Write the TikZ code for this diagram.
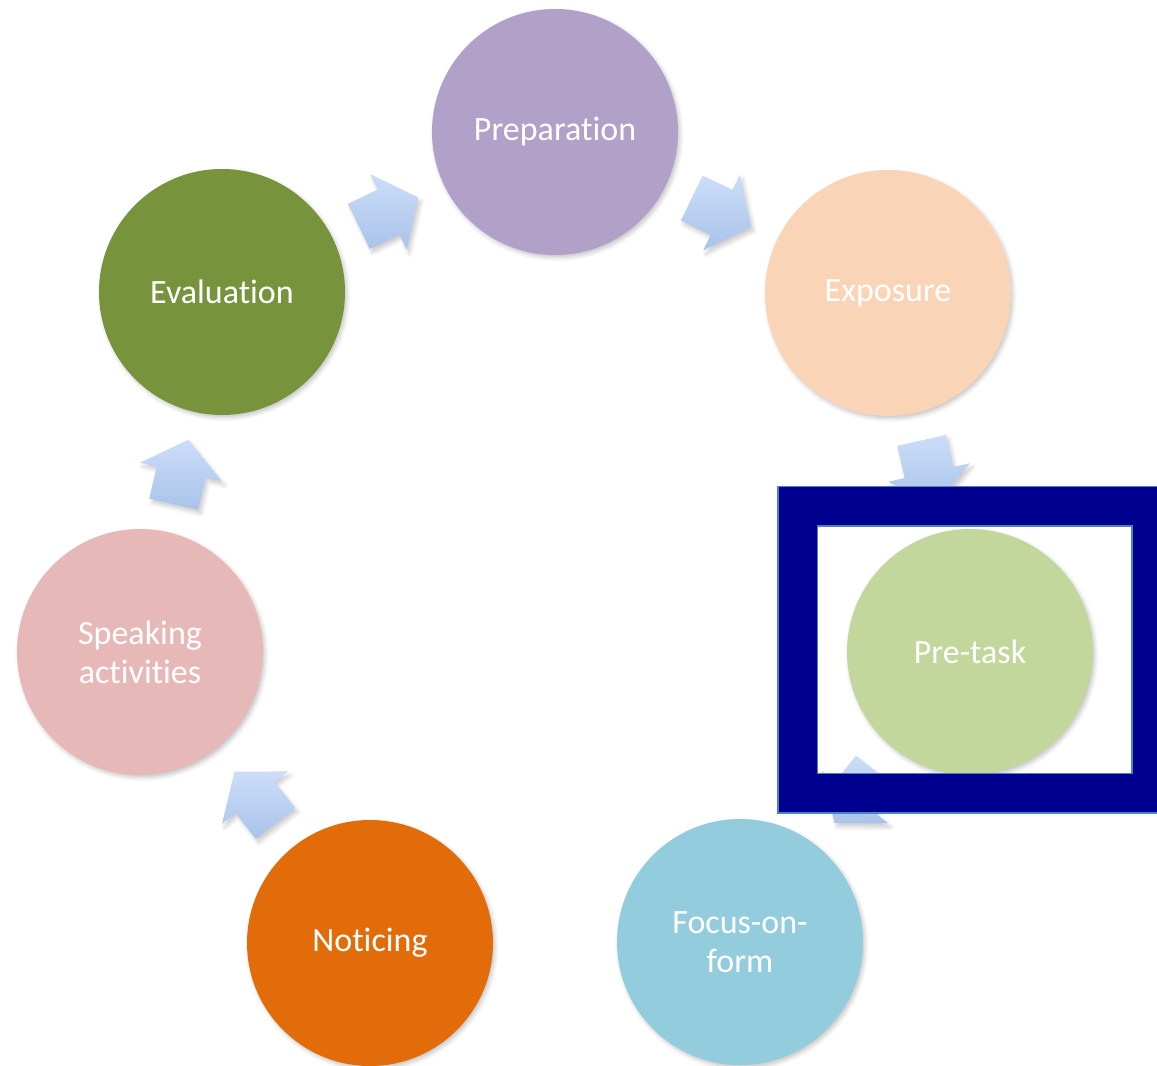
\documentclass[tikz,border=0pt]{standalone}
\usepackage{fontspec}
\setmainfont[RawFeature={-liga;-clig;-dlig;-calt;-hlig}]{Carlito}
\usetikzlibrary{calc,shadows.blur}

\definecolor{prepfill}{HTML}{B1A0C7}
\definecolor{expofill}{HTML}{FAD4B6}
\definecolor{pretaskfill}{HTML}{C3D69B}
\definecolor{focusfill}{HTML}{93CDDD}
\definecolor{noticefill}{HTML}{E36C0A}
\definecolor{speakfill}{HTML}{E6B9B8}
\definecolor{evalfill}{HTML}{77933C}
\definecolor{arrowtop}{HTML}{CCDDF8}
\definecolor{arrowbottom}{HTML}{A9C3EA}
\definecolor{framenavy}{HTML}{000090}
\definecolor{frameedge}{HTML}{4F81BD}

\tikzset{
  stage/.style={circle, fill=#1, minimum size=184.5pt, inner sep=0pt,
    text=white, align=center, font=\fontsize{25.5}{29}\selectfont,
    blur shadow={shadow xshift=1.5pt, shadow yshift=-2pt,
      shadow opacity=22, shadow blur radius=3pt}},
  arrowbody/.style={top color=arrowtop, bottom color=arrowbottom,
    blur shadow={shadow xshift=2pt, shadow yshift=-3pt,
      shadow opacity=20, shadow blur radius=3pt}},
  % block arrow pointing along the given angle, in pixel-sized units
  pics/flowarrow/.style={code={
    \begin{scope}[x={(#1:0.75pt)}, y={(#1+90:0.75pt)}]
      \path[arrowbody] (-33,-25) -- (0,-25) -- (0,-42) -- (33,0)
        -- (0,42) -- (0,25) -- (-33,25) -- cycle;
    \end{scope}}}
}

\begin{document}
\begin{tikzpicture}[x=0.75pt, y=-0.75pt]
  \useasboundingbox (0,0) rectangle (1157,1065);
  \clip (0,0) rectangle (1157,1065);

  % the seven stages of the cycle
  \node[stage=prepfill]    (prep)    at (555,132) {Preparation};
  \node[stage=expofill]    (expo)    at (888,293) {Exposure};
  \node[stage=pretaskfill] (pretask) at (970,652) {Pre-task};
  \node[stage=focusfill]   (focus)   at (740,942) {Focus-on-\\form};
  \node[stage=noticefill]  (notice)  at (370,943) {Noticing};
  \node[stage=speakfill]   (speak)   at (140,652) {Speaking\\activities};
  \node[stage=evalfill]    (eval)    at (222,292) {Evaluation};

  % arrows between consecutive stages
  \pic at ($(eval)!0.5!(prep)$)      {flowarrow=25.8};
  \pic at ($(prep)!0.5!(expo)$)      {flowarrow=-25.8};
  \pic at ($(expo)!0.5!(pretask)$)   {flowarrow=-77.2};
  \pic at ($(pretask)!0.5!(focus)$)  {flowarrow=-128.4};
  \pic at ($(notice)!0.5!(speak)$)   {flowarrow=128.4};
  \pic at ($(speak)!0.5!(eval)$)     {flowarrow=77.2};

  % highlight frame around the current stage
  \node[draw=frameedge, double=framenavy, double distance=28.5pt,
        line width=1.125pt, minimum width=265.5pt, minimum height=214.9pt,
        inner sep=0pt] (highlight) at (974.5,649.75) {};
\end{tikzpicture}
\end{document}
